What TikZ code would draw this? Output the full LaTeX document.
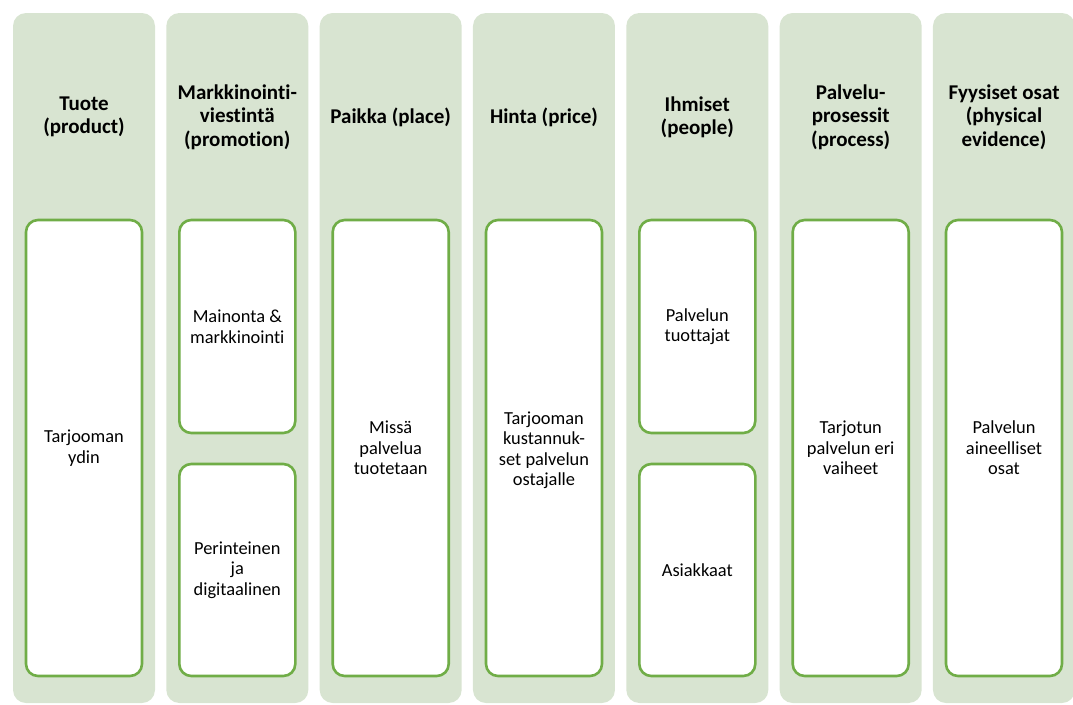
\documentclass[tikz,border=0pt]{standalone}
\usepackage{fontspec}
\setmainfont{Carlito}[Ligatures=NoCommon]
\definecolor{colfill}{RGB}{216,228,209}
\definecolor{boxline}{RGB}{112,173,71}
\tikzset{
  x=1pt, y=-1pt,
  column/.style={fill=colfill, draw=none, rounded corners=13pt},
  itembox/.style={fill=white, draw=boxline, line width=2.6pt, rounded corners=12pt},
  head/.style={align=center, font=\fontsize{21}{23.3}\selectfont\bfseries, text=black, inner sep=0pt},
  body/.style={align=center, font=\fontsize{18.4}{20.5}\selectfont, text=black, inner sep=0pt},
}
\begin{document}
\begin{tikzpicture}
\useasboundingbox (0,0) rectangle (1073,704);

% seven columns, pitch 153.33
\foreach \i in {0,...,6}{
  \pgfmathsetmacro{\cx}{13+153.33*\i}
  \path[column] (\cx,13) rectangle ++(142,690);
}

% headers
\node[head] (h1) at (84,117) {Tuote\\(product)};
\node[head] (h2) at (237.3,117) {Markkinointi-\\viestintä\\(promotion)};
\node[head] (h3) at (390.7,117) {Paikka (place)};
\node[head] (h4) at (544,117) {Hinta (price)};
\node[head] (h5) at (697.3,117) {Ihmiset\\(people)};
\node[head] (h6) at (850.7,117) {Palvelu-\\prosessit\\(process)};
\node[head] (h7) at (1004,117) {Fyysiset osat\\(physical\\evidence)};

% content boxes
\draw[itembox] (26,220) rectangle (142,676);
\draw[itembox] (179.3,220) rectangle (295.3,433);
\draw[itembox] (179.3,464) rectangle (295.3,676);
\draw[itembox] (332.7,220) rectangle (448.7,676);
\draw[itembox] (486,220) rectangle (602,676);
\draw[itembox] (639.3,220) rectangle (755.3,433);
\draw[itembox] (639.3,464) rectangle (755.3,676);
\draw[itembox] (792.7,220) rectangle (908.7,676);
\draw[itembox] (946,220) rectangle (1062,676);

% content texts
\node[body] (b1) at (84,448) {Tarjooman\\ydin};
\node[body] (b2a) at (237.3,326.5) {Mainonta \&\\markkinointi};
\node[body] (b2b) at (237.3,570) {Perinteinen\\ja\\digitaalinen};
\node[body] (b3) at (390.7,448) {Missä\\palvelua\\tuotetaan};
\node[body] (b4) at (544,450) {Tarjooman\\kustannuk-\\set palvelun\\ostajalle};
\node[body] (b5a) at (697.3,326.5) {Palvelun\\tuottajat};
\node[body] (b5b) at (697.3,570) {Asiakkaat};
\node[body] (b6) at (850.7,448) {Tarjotun\\palvelun eri\\vaiheet};
\node[body] (b7) at (1004,448) {Palvelun\\aineelliset\\osat};
\end{tikzpicture}
\end{document}
